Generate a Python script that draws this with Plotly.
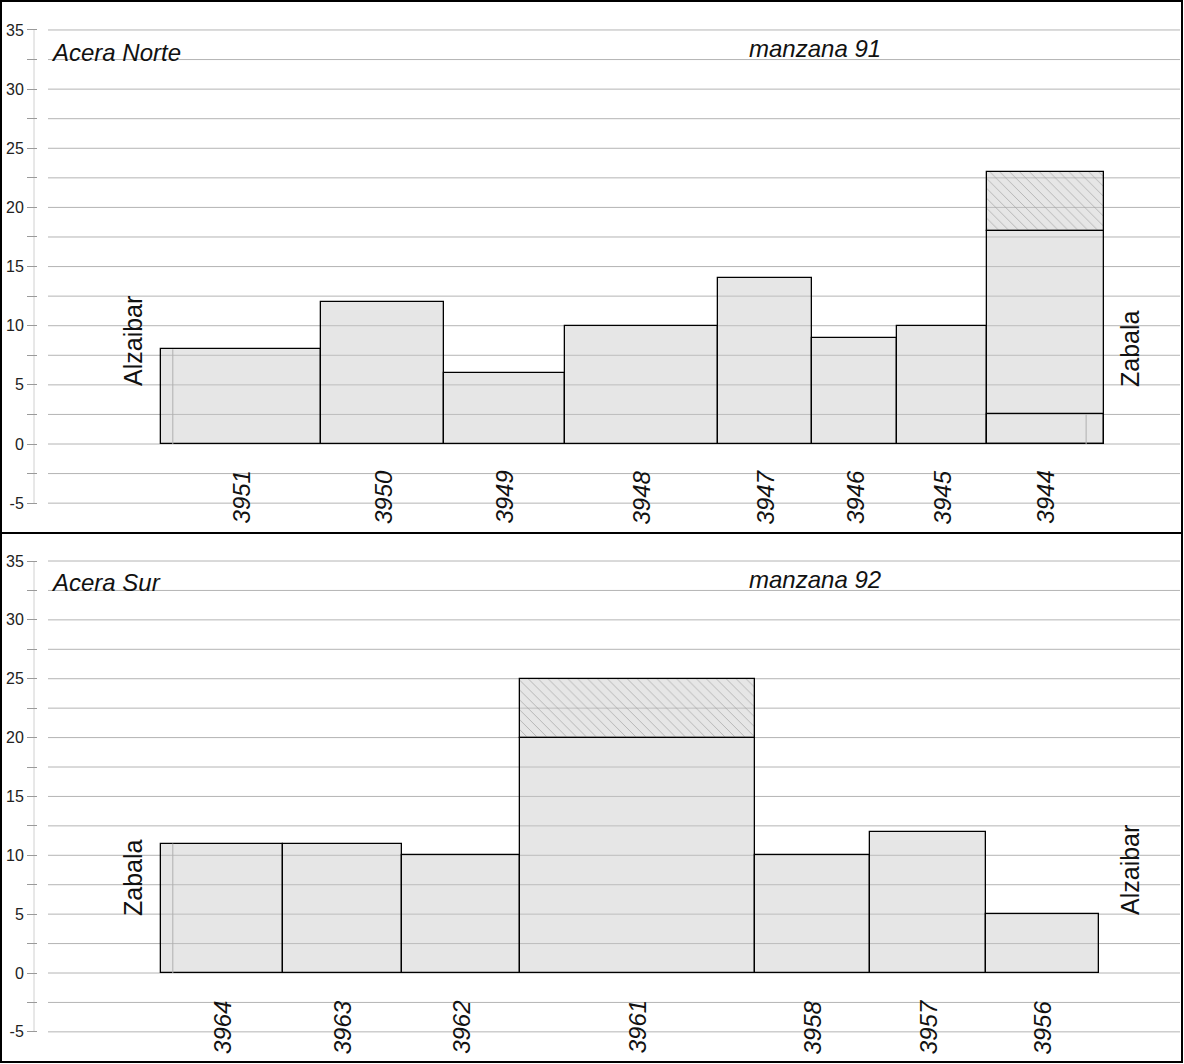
import plotly.graph_objects as go
import numpy as np

# ---------------- data ----------------
north_lots = ["3951", "3950", "3949", "3948", "3947", "3946", "3945", "3944"]
north_widths = [13.6, 10.4, 10.2, 13.0, 8.0, 7.2, 7.6, 9.9]
north_heights = [8, 12, 6, 10, 14, 9, 10, 18]
north_ground = [0, 0, 0, 0, 0, 0, 0, 2.5]
north_hatched = [0, 0, 0, 0, 0, 0, 0, 5]
north_portal_offset = [1.0, None, None, None, None, None, None, 8.4]
north_portal_height = [8, None, None, None, None, None, None, 2.5]

south_lots = ["3964", "3963", "3962", "3961", "3958", "3957", "3956"]
south_widths = [10.3, 10.1, 10.0, 19.9, 9.8, 9.8, 9.6]
south_heights = [11, 11, 10, 20, 10, 12, 5]
south_ground = [0, 0, 0, 0, 0, 0, 0]
south_hatched = [0, 0, 0, 5, 0, 0, 0]
south_portal_offset = [1.0, None, None, None, None, None, None]
south_portal_height = [11, None, None, None, None, None, None]

y_ticks = [-5, 0, 5, 10, 15, 20, 25, 30, 35]

# ---------------- layout constants ----------------
W, H = 1184, 1064
FONT = "Liberation Sans, Arial, sans-serif"
FILL = "rgba(200,200,200,0.45)"
GRID = "#b4b4b4"
KPX = 11.8          # px per metre horizontally
X0PX = 161          # px of street start
XL, XR = 38, 1182   # plot area px

def px_x(p):
    return p / W

def px_y(p):
    return 1 - p / H

xrange_ = [(XL - X0PX) / KPX, (XR - X0PX) / KPX]

fig = go.Figure()

panels = [
    dict(lots=north_lots, widths=north_widths, heights=north_heights, ground=north_ground,
         hatched=north_hatched, poff=north_portal_offset, ph=north_portal_height,
         xa="x", ya="y", dom=(2, 532), zero=444, s=11.829,
         acera="Acera Norte", manz="manzana 91", left="Alzaibar", right="Zabala",
         ty_top=(52, 49), left_y=341, right_y=349, label_y=-4.5),
    dict(lots=south_lots, widths=south_widths, heights=south_heights, ground=south_ground,
         hatched=south_hatched, poff=south_portal_offset, ph=south_portal_height,
         xa="x2", ya="y2", dom=(535, 1061), zero=973, s=11.771,
         acera="Acera Sur", manz="manzana 92", left="Zabala", right="Alzaibar",
         ty_top=(582, 579), left_y=878, right_y=870, label_y=-4.6),
]

shapes = []
annotations = []

for i, P in enumerate(panels):
    w = np.array(P["widths"], dtype=float)
    left = np.concatenate([[0], np.cumsum(w)[:-1]])
    centers = left + w / 2
    h = np.array(P["heights"], dtype=float)

    # main bars
    fig.add_trace(go.Bar(x=centers, y=h, base=0, width=w, xaxis=P["xa"], yaxis=P["ya"],
                         marker=dict(color=FILL, line=dict(color="black", width=1.3)),
                         showlegend=False, hoverinfo="skip"))
    # ground floor segments (outline only)
    g = np.array(P["ground"], dtype=float)
    m = g > 0
    if m.any():
        fig.add_trace(go.Bar(x=centers[m], y=g[m], base=0, width=w[m], xaxis=P["xa"], yaxis=P["ya"],
                             marker=dict(color="rgba(0,0,0,0)", line=dict(color="black", width=1.3)),
                             showlegend=False, hoverinfo="skip"))
    # hatched top (attic) segments
    ht = np.array(P["hatched"], dtype=float)
    m = ht > 0
    if m.any():
        fig.add_trace(go.Bar(x=centers[m], y=ht[m], base=h[m], width=w[m], xaxis=P["xa"], yaxis=P["ya"],
                             marker=dict(color=FILL, line=dict(color="black", width=1.3),
                                         pattern=dict(shape="\\", fgcolor="#9a9a9a", size=7,
                                                      solidity=0.1, fgopacity=0.9)),
                             showlegend=False, hoverinfo="skip"))
    # thin interior lines
    xs, ys = [], []
    for j, (o, ph) in enumerate(zip(P["poff"], P["ph"])):
        if o is not None:
            xs += [left[j] + o, left[j] + o, None]
            ys += [0, ph, None]
    fig.add_trace(go.Scatter(x=xs, y=ys, mode="lines", xaxis=P["xa"], yaxis=P["ya"],
                             line=dict(color="#b0b0b0", width=1), showlegend=False, hoverinfo="skip"))

    # axis ranges
    top_px, bot_px = P["dom"]
    yr = [(P["zero"] - bot_px) / P["s"], (P["zero"] - top_px) / P["s"]]
    xkey = "xaxis" if i == 0 else "xaxis2"
    ykey = "yaxis" if i == 0 else "yaxis2"
    fig.update_layout(**{
        xkey: dict(domain=[px_x(XL), px_x(XR)], range=xrange_, visible=False,
                   anchor=P["ya"], fixedrange=True),
        ykey: dict(domain=[px_y(bot_px), px_y(top_px)], range=yr, anchor=P["xa"],
                   showgrid=False, zeroline=False, showline=False,
                   tickvals=y_ticks, ticktext=[str(t) for t in y_ticks],
                   ticks="outside", ticklen=10, tickcolor="#9a9a9a", tickwidth=1,
                   tickfont=dict(family=FONT, size=16, color="#222"),
                   minor=dict(dtick=2.5, tick0=0, ticks="outside", ticklen=10,
                              tickcolor="#9a9a9a", showgrid=False),
                   fixedrange=True),
    })

    # gridlines
    for v in np.arange(-5, 35.01, 2.5):
        shapes.append(dict(type="line", xref="paper", yref=P["ya"], x0=px_x(48), x1=px_x(1180),
                           y0=v, y1=v, line=dict(color=GRID, width=1), layer="below"))
    # faint vertical axis line
    shapes.append(dict(type="line", xref="paper", yref=P["ya"], x0=px_x(34), x1=px_x(34),
                       y0=-5, y1=35, line=dict(color="#d0d0d0", width=1), layer="below"))

    # bar labels
    for c, lab in zip(centers, P["lots"]):
        annotations.append(dict(x=c, y=P["label_y"], xref=P["xa"], yref=P["ya"], text=lab,
                                textangle=-90, showarrow=False, xanchor="center", yanchor="middle",
                                font=dict(family=FONT, size=24, color="#111", style="italic")))
    # titles
    annotations.append(dict(x=px_x(49), y=px_y(P["ty_top"][0]), xref="paper", yref="paper",
                            text=P["acera"], showarrow=False, xanchor="left", yanchor="middle",
                            font=dict(family=FONT, size=24, color="#111", style="italic")))
    annotations.append(dict(x=px_x(815), y=px_y(P["ty_top"][1]), xref="paper", yref="paper",
                            text=P["manz"], showarrow=False, xanchor="center", yanchor="middle",
                            font=dict(family=FONT, size=24, color="#111", style="italic")))
    # side street names
    annotations.append(dict(x=px_x(133), y=px_y(P["left_y"]), xref="paper", yref="paper",
                            text=P["left"], textangle=-90, showarrow=False,
                            xanchor="center", yanchor="middle",
                            font=dict(family=FONT, size=25, color="#111")))
    annotations.append(dict(x=px_x(1130), y=px_y(P["right_y"]), xref="paper", yref="paper",
                            text=P["right"], textangle=-90, showarrow=False,
                            xanchor="center", yanchor="middle",
                            font=dict(family=FONT, size=25, color="#111")))

# panel borders
shapes.append(dict(type="rect", xref="paper", yref="paper", x0=px_x(1), x1=px_x(1182),
                   y0=px_y(533), y1=px_y(1), line=dict(color="black", width=2), layer="above"))
shapes.append(dict(type="rect", xref="paper", yref="paper", x0=px_x(1), x1=px_x(1182),
                   y0=px_y(1062), y1=px_y(533), line=dict(color="black", width=2), layer="above"))

fig.update_layout(width=W, height=H, margin=dict(l=0, r=0, t=0, b=0),
                  paper_bgcolor="white", plot_bgcolor="rgba(0,0,0,0)",
                  barmode="overlay", bargap=0, shapes=shapes, annotations=annotations,
                  font=dict(family=FONT))

fig.write_html("out.html", config={"displayModeBar": False},
               post_script="document.body.style.margin='0px';document.body.style.overflow='hidden';")
